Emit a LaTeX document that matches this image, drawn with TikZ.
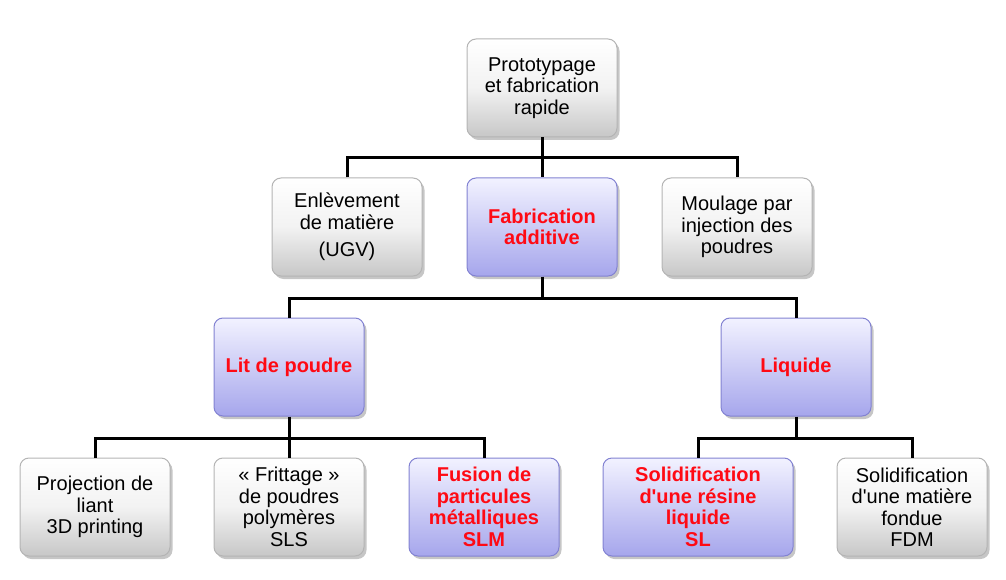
\documentclass[tikz,border=0pt]{standalone}
\usepackage{fontspec}
\setmainfont{Liberation Sans}[Ligatures=TeXOff]
\usepackage{tikz}
\usetikzlibrary{shadows}
\definecolor{boxred}{HTML}{FF0A14}
\definecolor{lavtop}{HTML}{F2F2FF}
\definecolor{lavbot}{HTML}{A6A6EC}
\definecolor{lavline}{HTML}{8282D2}
\definecolor{greyline}{HTML}{B4B4B4}
\tikzset{
  boite/.style={rounded corners=9pt, minimum width=150pt, minimum height=98pt,
    align=center, font=\fontsize{20}{21.5}\selectfont, draw=greyline, line width=1pt,
    top color=white, bottom color=black!22, middle color=white!95!black,
    drop shadow={shadow xshift=2.5pt, shadow yshift=-3pt, opacity=0.45}},
  additif/.style={boite, draw=lavline, top color=lavtop, middle color=lavtop!60!lavbot,
    bottom color=lavbot, text=boxred, font=\fontsize{20}{21.5}\selectfont\bfseries},
  lien/.style={line width=3pt, black}
}
\begin{document}
\begin{tikzpicture}[x=1pt,y=-1pt]
\useasboundingbox (0,0) rectangle (1006,580);
% premier niveau
\node[boite] (proto) at (542,88) {Prototypage\\et fabrication\\rapide};
% deuxieme niveau
\node[boite] (enlev) at (347,227) {Enlèvement\\de matière\\[6pt](UGV)};
\node[additif] (fab) at (542,227) {Fabrication\\additive};
\node[boite] (moul) at (737,227) {Moulage par\\injection des\\poudres};
% troisieme niveau
\node[additif] (lit) at (289,367) {Lit de poudre};
\node[additif] (liq) at (796,367) {Liquide};
% quatrieme niveau
\node[boite] (proj) at (95,507) {Projection de\\liant\\3D printing};
\node[boite] (fritt) at (289,507) {« Frittage »\\de poudres\\polymères\\SLS};
\node[additif] (slm) at (484,507) {Fusion de\\particules\\métalliques\\SLM};
\node[additif, minimum width=190pt] (sl) at (698,507) {Solidification\\d'une résine\\liquide\\SL};
\node[boite] (fdm) at (912,507) {Solidification\\d'une matière\\fondue\\FDM};
% liaisons
\draw[lien] (proto.south) -- ++(0,20) coordinate (b1);
\draw[lien] (enlev.north) |- (b1) -| (moul.north);
\draw[lien] (b1) -- (fab.north);
\draw[lien] (fab.south) -- ++(0,22) coordinate (b2);
\draw[lien] (lit.north) |- (b2) -| (liq.north);
\draw[lien] (lit.south) -- ++(0,22) coordinate (b3);
\draw[lien] (proj.north) |- (b3) -| (slm.north);
\draw[lien] (b3) -- (fritt.north);
\draw[lien] (liq.south) -- ++(0,22) coordinate (b4);
\draw[lien] (sl.north) |- (b4) -| (fdm.north);
\end{tikzpicture}
\end{document}
